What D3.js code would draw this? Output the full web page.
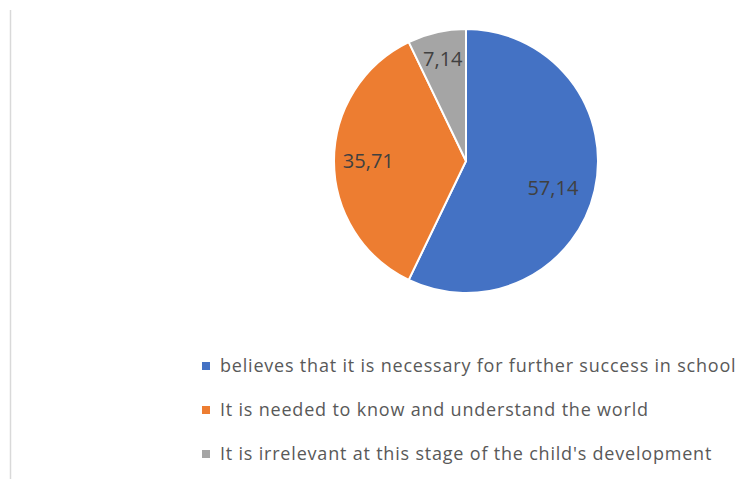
<!DOCTYPE html>
<html>
<head>
<meta charset="utf-8">
<script src="https://cdn.jsdelivr.net/npm/d3@7"></script>
<style>
  body { margin: 0; background: #fff; }
  text { font-family: "Open Sans", "Noto Sans", sans-serif; }
</style>
</head>
<body>
<svg id="chart" width="741" height="479"></svg>
<script>
// data
let categories = [
  "believes that it is necessary for further success in school",
  "It is needed to know and understand the world",
  "It is irrelevant at this stage of the child's development"
];
let values = [57.14, 35.71, 7.14];
let labels = ["57,14", "35,71", "7,14"];
let colors = ["#4472C4", "#ED7D31", "#A5A5A5"];

let svg = d3.select("svg#chart");

// left frame line
svg.append("line")
  .attr("x1", 10.5).attr("x2", 10.5)
  .attr("y1", 10).attr("y2", 479)
  .attr("stroke", "#d9d9d9")
  .attr("stroke-width", 1.5);

let cx = 466, cy = 161, radius = 132;

let pie = d3.pie().sort(null).value(d => d);
let arcs = pie(values);
let arc = d3.arc().innerRadius(0).outerRadius(radius);

let g = svg.append("g").attr("transform", `translate(${cx}, ${cy})`);

g.selectAll("path")
  .data(arcs)
  .enter().append("path")
  .attr("d", arc)
  .attr("fill", (d, i) => colors[i])
  .attr("stroke", "#fff")
  .attr("stroke-width", 2);

// label positions along each slice's mid angle (blue one sits a bit lower)
let labelRadius = [0.69, 0.74, 0.79];
let labelTurn = [0.08, 0, 0];
g.selectAll("text.lbl")
  .data(arcs)
  .enter().append("text")
  .attr("class", "lbl")
  .attr("transform", (d, i) => {
    let a = (d.startAngle + d.endAngle) / 2 + labelTurn[i];
    let r = radius * labelRadius[i];
    return `translate(${Math.sin(a) * r}, ${-Math.cos(a) * r})`;
  })
  .attr("text-anchor", "middle")
  .attr("dy", "0.35em")
  .attr("font-size", 20)
  .attr("fill", "#404040")
  .text((d, i) => labels[i]);

// legend
let legend = svg.append("g").attr("transform", "translate(202, 366)");
let rows = legend.selectAll("g")
  .data(categories)
  .enter().append("g")
  .attr("transform", (d, i) => `translate(0, ${i * 44})`);

rows.append("rect")
  .attr("x", 0).attr("y", -4)
  .attr("width", 8).attr("height", 8)
  .attr("fill", (d, i) => colors[i]);

rows.append("text")
  .attr("x", 18)
  .attr("dy", "0.35em")
  .attr("font-size", 18)
  .attr("letter-spacing", 0.8)
  .attr("fill", "#595959")
  .text(d => d);
</script>
</body>
</html>
